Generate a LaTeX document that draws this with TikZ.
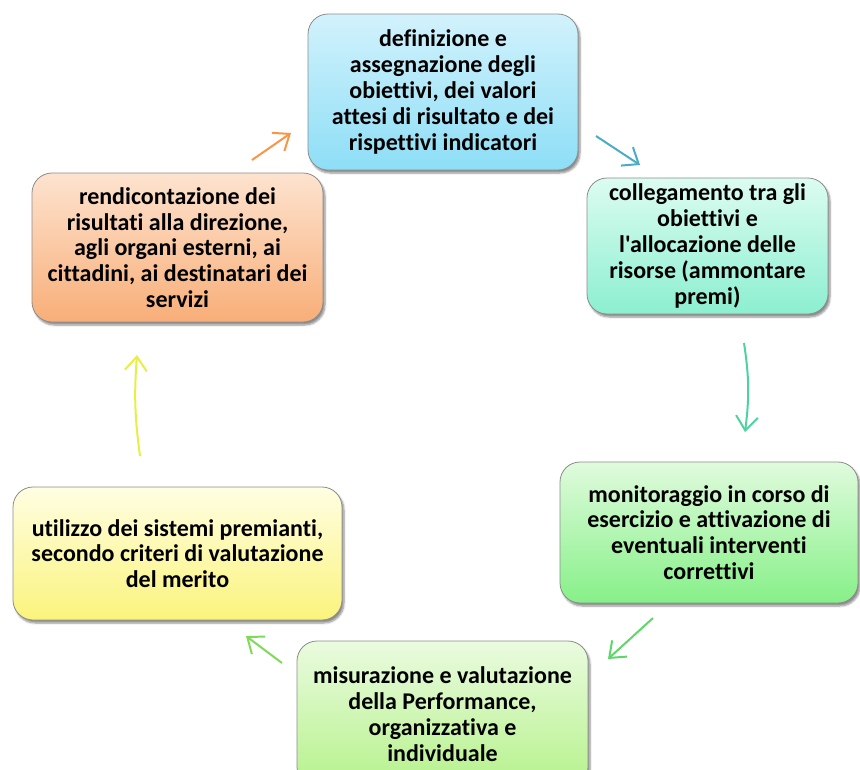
\documentclass[tikz,border=0pt]{standalone}
\usepackage{fontspec}
\setmainfont{Carlito}[Ligatures={TeXOff,NoCommon}]
\usetikzlibrary{arrows.meta,shadows.blur}
\definecolor{bA1}{HTML}{D2F2FC}\definecolor{bA2}{HTML}{8DDEF6}
\definecolor{bB1}{HTML}{DCFCF1}\definecolor{bB2}{HTML}{8CEFD0}
\definecolor{bC1}{HTML}{FDE3CF}\definecolor{bC2}{HTML}{F8AE78}
\definecolor{bD1}{HTML}{E0FBDD}\definecolor{bD2}{HTML}{86F088}
\definecolor{bE1}{HTML}{FFFEE2}\definecolor{bE2}{HTML}{FAF47C}
\definecolor{bF1}{HTML}{EAFBDF}\definecolor{bF2}{HTML}{B6F28C}
\definecolor{aA}{HTML}{4BACC6}
\definecolor{aB}{HTML}{4FD2A2}
\definecolor{aC}{HTML}{5FD66A}
\definecolor{aD}{HTML}{7FDA5A}
\definecolor{aE}{HTML}{E8EE44}
\definecolor{aF}{HTML}{F79646}
\tikzset{
  card/.style={draw=black!45, line width=0.8pt, rounded corners=20pt,
    align=center, inner sep=0pt, font=\bfseries\fontsize{24}{25.8}\selectfont,
    blur shadow={shadow xshift=2pt, shadow yshift=-3pt, shadow blur steps=6, shadow opacity=45}},
  flow/.style={line width=2pt, -{Straight Barb[length=14pt,width=22pt,line width=2pt]}}
}
\begin{document}
\begin{tikzpicture}[x=1pt,y=-1pt]
\useasboundingbox (0,0) rectangle (860,769);
\node[card, top color=bA1, bottom color=bA2, minimum width=270pt, minimum height=156pt] (a) at (443,92)
  {definizione e\\assegnazione degli\\obiettivi, dei valori\\attesi di risultato e dei\\rispettivi indicatori};
\node[card, top color=bB1, bottom color=bB2, minimum width=241pt, minimum height=136pt] (b) at (707.5,246)
  {collegamento tra gli\\obiettivi e\\l'allocazione delle\\risorse (ammontare\\premi)};
\node[card, top color=bD1, bottom color=bD2, minimum width=298pt, minimum height=141pt] (d) at (709,532.5)
  {monitoraggio in corso di\\esercizio e attivazione di\\eventuali interventi\\correttivi};
\node[card, top color=bF1, bottom color=bF2, minimum width=291pt, minimum height=146pt] (f) at (442.5,714)
  {misurazione e valutazione\\della Performance,\\organizzativa e\\individuale};
\node[card, top color=bE1, bottom color=bE2, minimum width=329pt, minimum height=133pt] (e) at (177.5,553.5)
  {utilizzo dei sistemi premianti,\\secondo criteri di valutazione\\del merito};
\node[card, top color=bC1, bottom color=bC2, minimum width=291pt, minimum height=149pt] (c) at (177.5,247.5)
  {rendicontazione dei\\risultati alla direzione,\\agli organi esterni, ai\\cittadini, ai destinatari dei\\servizi};
\coordinate (a1) at (596,136); \coordinate (a2) at (640,165);
\coordinate (b1) at (744,343); \coordinate (b2) at (745,432);
\coordinate (d1) at (653,618); \coordinate (d2) at (608,659);
\coordinate (f1) at (282,663); \coordinate (f2) at (246,636);
\coordinate (e1) at (140,456); \coordinate (e2) at (137,355);
\coordinate (c1) at (252,160); \coordinate (c2) at (291,133);
\draw[flow, aA] (a1) -- (a2);
\draw[flow, aB] (b1) to[bend left=8] (b2);
\draw[flow, aC] (d1) -- (d2);
\draw[flow, aD] (f1) -- (f2);
\draw[flow, aE] (e1) to[bend left=6] (e2);
\draw[flow, aF] (c1) -- (c2);
\end{tikzpicture}
\end{document}
